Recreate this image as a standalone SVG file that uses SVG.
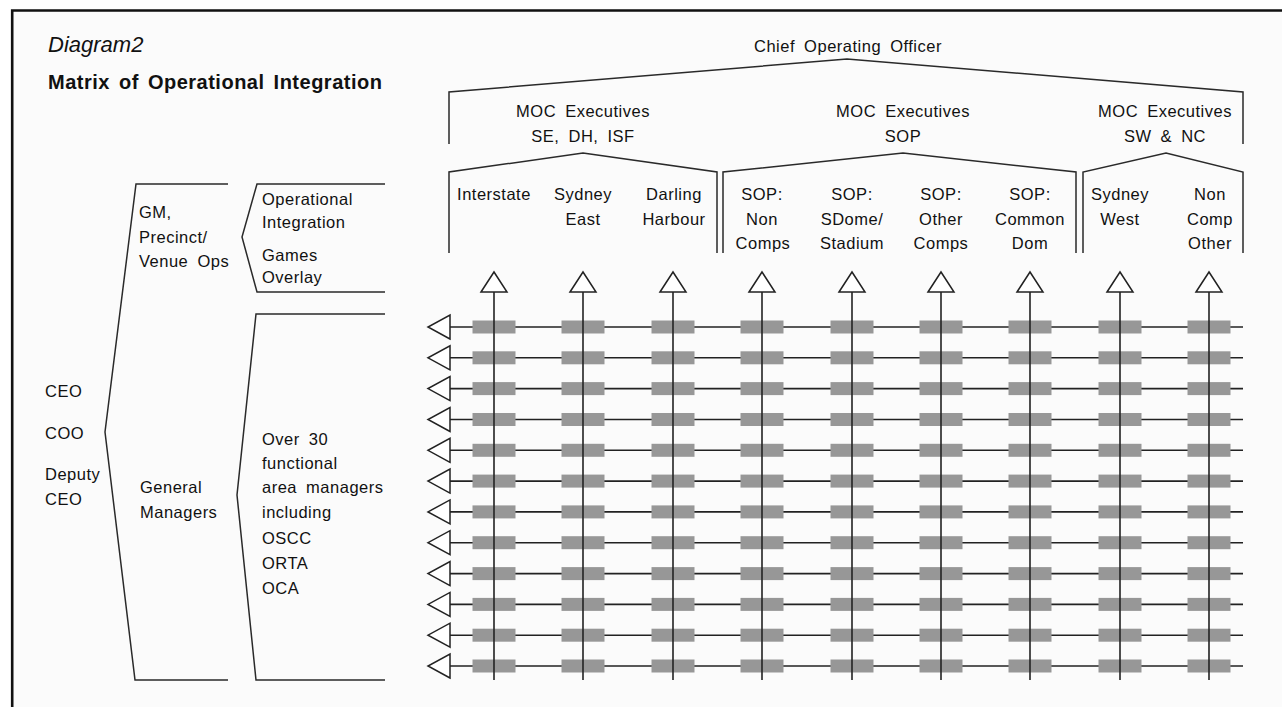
<svg xmlns="http://www.w3.org/2000/svg" width="1282" height="707" viewBox="0 0 1282 707">
<style>
text{font-family:"Liberation Sans",Arial,Helvetica,sans-serif;fill:#111;font-size:16.5px;letter-spacing:0.5px;word-spacing:4px}
.c{text-anchor:middle}
.title{font-style:italic;font-size:22px;letter-spacing:0}
.sub{font-weight:bold;font-size:20px;letter-spacing:0.5px;word-spacing:3px}
.br{fill:none;stroke:#2a2a2a;stroke-width:1.5;stroke-linejoin:miter}
.ln{stroke:#222;stroke-width:1.6;fill:none}
.cell{fill:#979797}
</style>
<defs>
<marker id="up" viewBox="0 -13 20 26" refX="0" refY="0" markerWidth="20" markerHeight="26" markerUnits="userSpaceOnUse" orient="auto" overflow="visible">
<path d="M0,-13 L20,0 L0,13 Z" fill="#fff" stroke="#222" stroke-width="1.5" stroke-linejoin="miter"/>
</marker>
<marker id="lf" viewBox="0 -12 22 24" refX="0" refY="0" markerWidth="22" markerHeight="24" markerUnits="userSpaceOnUse" orient="auto" overflow="visible">
<path d="M0,-12 L22,0 L0,12 Z" fill="#fff" stroke="#222" stroke-width="1.5" stroke-linejoin="miter"/>
</marker>
<rect id="cl" class="cell" x="-21.5" y="-6.5" width="43" height="13"/>
<g id="crow">
<use href="#cl" x="494" y="0"/><use href="#cl" x="583" y="0"/><use href="#cl" x="673" y="0"/><use href="#cl" x="762" y="0"/><use href="#cl" x="852" y="0"/><use href="#cl" x="941" y="0"/><use href="#cl" x="1030" y="0"/><use href="#cl" x="1120" y="0"/><use href="#cl" x="1209" y="0"/>
</g>
</defs>
<rect x="0" y="0" width="1282" height="707" fill="#fff"/>
<rect x="12" y="10.5" width="1270" height="697" fill="#fbfbfb"/>
<path d="M12.2,707 V10.5 H1282" fill="none" stroke="#111" stroke-width="2.6"/>

<g id="titles">
<text class="title" x="48" y="52">Diagram2</text>
<text class="sub" x="48" y="89">Matrix of Operational Integration</text>
</g>

<g id="connectors">
<g id="brackets">
<path class="br" d="M449,144 V92 L847,59 L1243,92 V144"/>
<path class="br" d="M449,253 V172 L583,153 L717,172 V253"/>
<path class="br" d="M723,253 V172 L903,153 L1076,172 V253"/>
<path class="br" d="M1083,253 V172 L1166,153 L1243,172 V253"/>
<path class="br" d="M228,184 H136 L105,432 L135,680 H228"/>
<path class="br" d="M385,184 H257 L242,237 L257,292 H385"/>
<path class="br" d="M385,314 H256 L237,495 L256,680 H385"/>
</g>
<g id="rows">
<path class="ln" marker-end="url(#lf)" d="M1243,327 H450"/>
<path class="ln" marker-end="url(#lf)" d="M1243,357.8 H450"/>
<path class="ln" marker-end="url(#lf)" d="M1243,388.6 H450"/>
<path class="ln" marker-end="url(#lf)" d="M1243,419.5 H450"/>
<path class="ln" marker-end="url(#lf)" d="M1243,450.3 H450"/>
<path class="ln" marker-end="url(#lf)" d="M1243,481.1 H450"/>
<path class="ln" marker-end="url(#lf)" d="M1243,511.9 H450"/>
<path class="ln" marker-end="url(#lf)" d="M1243,542.7 H450"/>
<path class="ln" marker-end="url(#lf)" d="M1243,573.6 H450"/>
<path class="ln" marker-end="url(#lf)" d="M1243,604.4 H450"/>
<path class="ln" marker-end="url(#lf)" d="M1243,635.2 H450"/>
<path class="ln" marker-end="url(#lf)" d="M1243,666 H450"/>
</g>
<g id="cells">
<use href="#crow" y="327"/><use href="#crow" y="357.8"/><use href="#crow" y="388.6"/><use href="#crow" y="419.5"/>
<use href="#crow" y="450.3"/><use href="#crow" y="481.1"/><use href="#crow" y="511.9"/><use href="#crow" y="542.7"/>
<use href="#crow" y="573.6"/><use href="#crow" y="604.4"/><use href="#crow" y="635.2"/><use href="#crow" y="666"/>
</g>
<g id="columns">
<path class="ln" marker-end="url(#up)" d="M494,680 V292"/>
<path class="ln" marker-end="url(#up)" d="M583,680 V292"/>
<path class="ln" marker-end="url(#up)" d="M673,680 V292"/>
<path class="ln" marker-end="url(#up)" d="M762,680 V292"/>
<path class="ln" marker-end="url(#up)" d="M852,680 V292"/>
<path class="ln" marker-end="url(#up)" d="M941,680 V292"/>
<path class="ln" marker-end="url(#up)" d="M1030,680 V292"/>
<path class="ln" marker-end="url(#up)" d="M1120,680 V292"/>
<path class="ln" marker-end="url(#up)" d="M1209,680 V292"/>
</g>
</g>

<g id="coo"><text class="c" x="848" y="52">Chief Operating Officer</text></g>
<g id="moc-se"><text class="c" x="583" y="117">MOC Executives</text><text class="c" x="583" y="142">SE, DH, ISF</text></g>
<g id="moc-sop"><text class="c" x="903" y="117">MOC Executives</text><text class="c" x="903" y="142">SOP</text></g>
<g id="moc-sw"><text class="c" x="1165" y="117">MOC Executives</text><text class="c" x="1165" y="142">SW &amp; NC</text></g>

<g id="col-interstate"><text class="c" x="494" y="200">Interstate</text></g>
<g id="col-sydeast"><text class="c" x="583" y="200">Sydney</text><text class="c" x="583" y="225">East</text></g>
<g id="col-darling"><text class="c" x="674" y="200">Darling</text><text class="c" x="674" y="225">Harbour</text></g>
<g id="col-sopnon"><text class="c" x="762" y="200">SOP:</text><text class="c" x="762" y="225">Non</text><text class="c" x="763" y="249">Comps</text></g>
<g id="col-sdome"><text class="c" x="852" y="200">SOP:</text><text class="c" x="852" y="225">SDome/</text><text class="c" x="852" y="249">Stadium</text></g>
<g id="col-other"><text class="c" x="941" y="200">SOP:</text><text class="c" x="941" y="225">Other</text><text class="c" x="941" y="249">Comps</text></g>
<g id="col-common"><text class="c" x="1030" y="200">SOP:</text><text class="c" x="1030" y="225">Common</text><text class="c" x="1030" y="249">Dom</text></g>
<g id="col-sydwest"><text class="c" x="1120" y="200">Sydney</text><text class="c" x="1120" y="225">West</text></g>
<g id="col-noncomp"><text class="c" x="1210" y="200">Non</text><text class="c" x="1210" y="225">Comp</text><text class="c" x="1210" y="249">Other</text></g>

<g id="exec"><text x="45" y="397">CEO</text><text x="45" y="439">COO</text><text x="45" y="480">Deputy</text><text x="45" y="505">CEO</text></g>
<g id="gm-precinct"><text x="139" y="218">GM,</text><text x="139" y="243">Precinct/</text><text x="139" y="267">Venue Ops</text></g>
<g id="ops"><text x="262" y="205">Operational</text><text x="262" y="228">Integration</text><text x="262" y="261">Games</text><text x="262" y="283">Overlay</text></g>
<g id="gm"><text x="140" y="493">General</text><text x="140" y="518">Managers</text></g>
<g id="fam"><text x="262" y="445">Over 30</text><text x="262" y="469">functional</text><text x="262" y="493">area managers</text><text x="262" y="518">including</text><text x="262" y="544">OSCC</text><text x="262" y="569">ORTA</text><text x="262" y="594">OCA</text></g>
</svg>
